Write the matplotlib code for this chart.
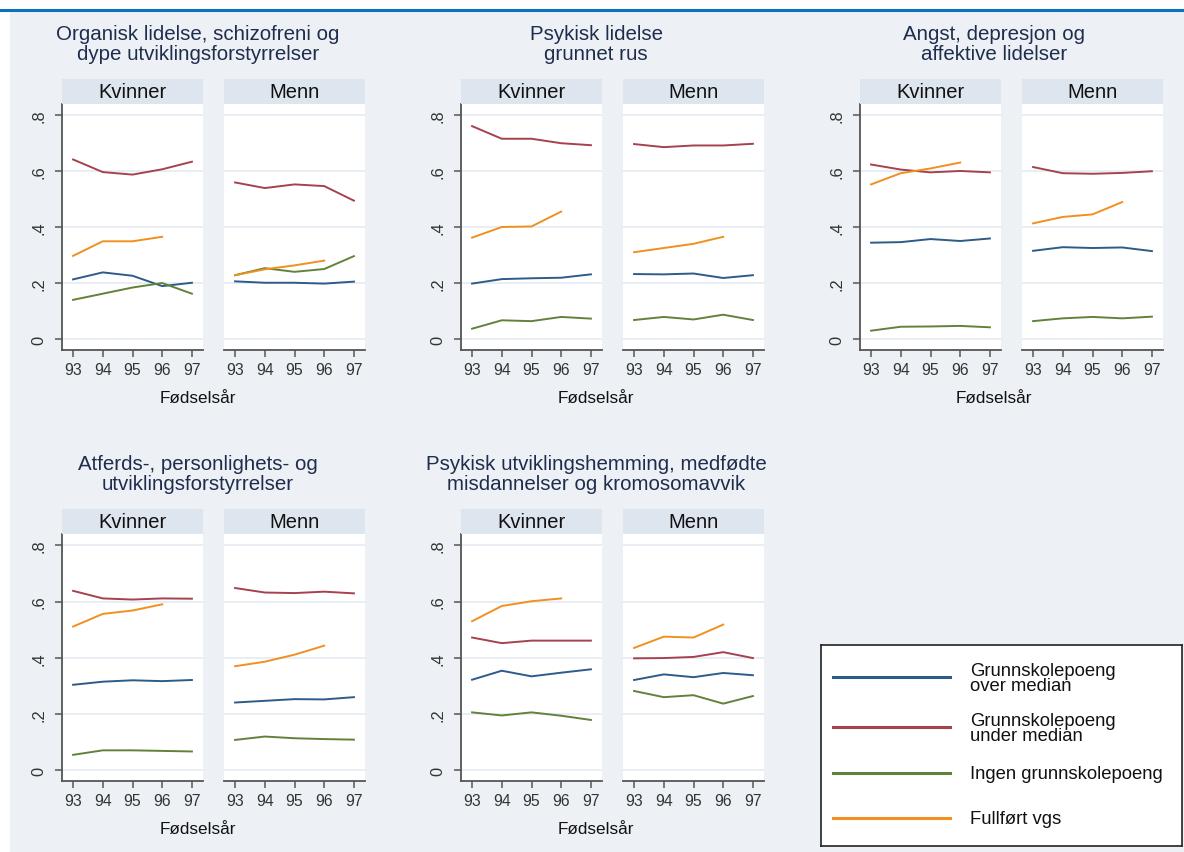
import matplotlib
matplotlib.use("Agg")
import matplotlib.pyplot as plt
from matplotlib.lines import Line2D

plt.rcParams['font.family'] = ['Liberation Sans', 'DejaVu Sans']

years = [93, 94, 95, 96, 97]
years_vgs = [93, 94, 95, 96]

series_names = ['Grunnskolepoeng\nover median', 'Grunnskolepoeng\nunder median',
                'Ingen grunnskolepoeng', 'Fullført vgs']
colors = ['#2d5b8a', '#a5424e', '#62823a', '#f0901e']

titles = ['Organisk lidelse, schizofreni og\ndype utviklingsforstyrrelser',
          'Psykisk lidelse\ngrunnet rus',
          'Angst, depresjon og\naffektive lidelser',
          'Atferds-, personlighets- og\nutviklingsforstyrrelser',
          'Psykisk utviklingshemming, medfødte\nmisdannelser og kromosomavvik']

# rows: over median, under median, ingen poeng, fullført vgs (93-96)
organisk_kvinner = [[0.214, 0.239, 0.227, 0.190, 0.202],
                    [0.642, 0.597, 0.588, 0.607, 0.634],
                    [0.141, 0.163, 0.185, 0.201, 0.163],
                    [0.298, 0.350, 0.350, 0.366]]
organisk_menn = [[0.207, 0.202, 0.202, 0.199, 0.206],
                 [0.560, 0.540, 0.553, 0.547, 0.495],
                 [0.229, 0.254, 0.241, 0.251, 0.297],
                 [0.229, 0.250, 0.264, 0.281]]
rus_kvinner = [[0.199, 0.215, 0.218, 0.220, 0.232],
               [0.761, 0.716, 0.716, 0.700, 0.693],
               [0.038, 0.068, 0.065, 0.080, 0.074],
               [0.363, 0.401, 0.403, 0.456]]
rus_menn = [[0.233, 0.232, 0.235, 0.219, 0.229],
            [0.697, 0.686, 0.692, 0.692, 0.698],
            [0.069, 0.080, 0.071, 0.088, 0.069],
            [0.311, 0.326, 0.341, 0.366]]
angst_kvinner = [[0.345, 0.347, 0.358, 0.351, 0.360],
                 [0.624, 0.606, 0.596, 0.601, 0.596],
                 [0.031, 0.045, 0.046, 0.048, 0.043],
                 [0.553, 0.593, 0.610, 0.631]]
angst_menn = [[0.316, 0.329, 0.326, 0.328, 0.315],
              [0.615, 0.593, 0.591, 0.594, 0.600],
              [0.065, 0.075, 0.080, 0.075, 0.081],
              [0.414, 0.437, 0.446, 0.490]]
atferd_kvinner = [[0.304, 0.315, 0.320, 0.317, 0.321],
                  [0.638, 0.611, 0.607, 0.611, 0.610],
                  [0.055, 0.071, 0.071, 0.069, 0.067],
                  [0.511, 0.556, 0.568, 0.590]]
atferd_menn = [[0.241, 0.247, 0.253, 0.252, 0.260],
               [0.648, 0.632, 0.630, 0.635, 0.629],
               [0.108, 0.120, 0.114, 0.111, 0.109],
               [0.370, 0.386, 0.411, 0.443]]
utvikling_kvinner = [[0.322, 0.354, 0.334, 0.347, 0.359],
                     [0.472, 0.452, 0.461, 0.461, 0.461],
                     [0.206, 0.195, 0.206, 0.194, 0.179],
                     [0.530, 0.584, 0.601, 0.611]]
utvikling_menn = [[0.321, 0.341, 0.331, 0.346, 0.338],
                  [0.398, 0.399, 0.403, 0.420, 0.399],
                  [0.282, 0.260, 0.267, 0.237, 0.264],
                  [0.435, 0.475, 0.472, 0.518]]

panel_data = [(organisk_kvinner, organisk_menn), (rus_kvinner, rus_menn),
              (angst_kvinner, angst_menn), (atferd_kvinner, atferd_menn),
              (utvikling_kvinner, utvikling_menn)]

W, H = 1184, 853
bg = '#edf1f6'
fig = plt.figure(figsize=(W / 100, H / 100), dpi=100)
fig.patch.set_facecolor('white')


def px_axes(x0, x1, y0, y1):
    return fig.add_axes([x0 / W, 1 - y1 / H, (x1 - x0) / W, (y1 - y0) / H])


# background and top rule
back = px_axes(10, W, 12, H)
back.set_facecolor(bg)
back.set_xticks([])
back.set_yticks([])
for s in back.spines.values():
    s.set_visible(False)
fig.add_artist(Line2D([0, 1], [1 - 10.5 / H, 1 - 10.5 / H], color='#0a72bd', lw=2.2))

# panel positions in pixels
cols = [62, 461, 860]
rows = [(105, 351), (535, 782)]
centres = [198, 596, 994]

for i, (kv, me) in enumerate(panel_data):
    r, c = divmod(i, 3)
    top, bot = rows[r]
    x0 = cols[c]
    fig.text(centres[c] / W, 1 - (top - 60.5) / H, titles[i], ha='center', va='center',
             fontsize=14.8, color='#1f2d4d', linespacing=1.0)
    fig.text(centres[c] / W, 1 - (bot + 48) / H, 'Fødselsår', ha='center', va='center',
             fontsize=12.3, color='#111111')
    for j, (data, label) in enumerate([(kv, 'Kvinner'), (me, 'Menn')]):
        left = x0 + j * 162
        ax = px_axes(left, left + 141, top, bot)
        ax.set_facecolor('white')
        for k in range(4):
            xs = years_vgs if k == 3 else years
            ax.plot(xs, data[k], color=colors[k], lw=1.4, solid_joinstyle='round')
        ax.set_xlim(92.627, 97.373)
        ax.set_ylim(-0.038, 0.84)
        ax.set_xticks(years)
        ax.set_xticklabels([str(y) for y in years], fontsize=11.3, color='#333333')
        ax.set_yticks([0, 0.2, 0.4, 0.6, 0.8])
        ax.grid(axis='y', color='#e9eef4', lw=1.4)
        ax.set_axisbelow(True)
        for s in ['top', 'right']:
            ax.spines[s].set_visible(False)
        ax.spines['bottom'].set_color('#555555')
        ax.spines['bottom'].set_linewidth(1.3)
        ax.tick_params(axis='x', length=5, width=1.1, color='#555555', pad=4)
        if j == 0:
            ax.spines['left'].set_color('#555555')
            ax.spines['left'].set_linewidth(1.3)
            ax.set_yticklabels(['0', '.2', '.4', '.6', '.8'], rotation=90,
                               va='center', fontsize=11.8, color='#333333')
            ax.tick_params(axis='y', length=5, width=1.1, color='#555555', pad=6)
        else:
            ax.spines['left'].set_visible(False)
            ax.tick_params(axis='y', left=False, labelleft=False)
        strip = px_axes(left, left + 141, top - 25, top)
        strip.set_facecolor('#dde5ee')
        strip.set_xticks([])
        strip.set_yticks([])
        for s in strip.spines.values():
            s.set_visible(False)
        strip.text(0.5, 0.5, label, ha='center', va='center', fontsize=14.5,
                   color='#111111', transform=strip.transAxes)

# legend box
leg = px_axes(821, 1182, 646, 847)
leg.set_facecolor('white')
leg.set_xlim(821, 1182)
leg.set_ylim(847, 646)
leg.set_xticks([])
leg.set_yticks([])
for s in leg.spines.values():
    s.set_color('#222222')
    s.set_linewidth(1.2)
for k, ypos in enumerate([678, 728, 774, 819]):
    leg.add_line(Line2D([833, 950], [ypos, ypos], color=colors[k], lw=2.2))
    leg.text(970, ypos + 1, series_names[k], ha='left', va='center', fontsize=13.3,
             multialignment='left', color='#111111', linespacing=0.9)

fig.savefig('out.png', dpi=100, facecolor=fig.get_facecolor())
